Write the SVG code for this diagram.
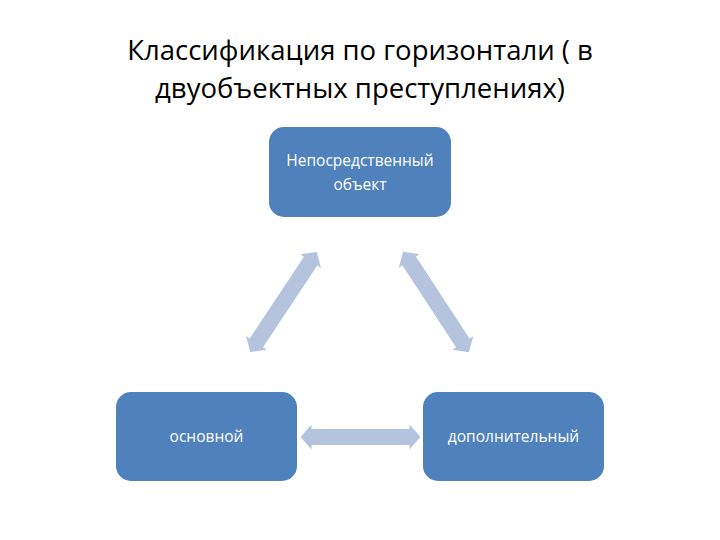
<svg xmlns="http://www.w3.org/2000/svg" xmlns:xlink="http://www.w3.org/1999/xlink" width="720" height="540" viewBox="0 0 720 540">
<style>
.box{fill:#4F81BD;}
.lbl{fill:#FFFFFF;font-family:"Open Sans","Liberation Sans",sans-serif;font-size:15.5px;text-anchor:middle;}
.title{fill:#000000;font-family:"Open Sans","Liberation Sans",sans-serif;font-size:27.5px;text-anchor:middle;}
.arr{fill:#B4C4DF;}
</style>
<defs>
<polygon id="dbl" class="arr" points="-60,0 -49,-12.5 -49,-8 49,-8 49,-12.5 60,0 49,12.5 49,8 -49,8 -49,12.5"/>
</defs>
<rect width="720" height="540" fill="#FFFFFF"/>
<g id="title">
<text class="title" x="360" y="60">Классификация по горизонтали ( в</text>
<text class="title" x="360" y="98">двуобъектных преступлениях)</text>
</g>
<g id="connectors">
<use xlink:href="#dbl" href="#dbl" transform="translate(283.5,302) rotate(-56.4)"/>
<use xlink:href="#dbl" href="#dbl" transform="translate(436,302) rotate(56.8)"/>
<use xlink:href="#dbl" href="#dbl" transform="translate(360.5,437) scale(1.0,1)"/>
</g>
<g id="node-top">
<rect class="box" x="269" y="127" width="182" height="90" rx="15"/>
<text class="lbl" x="360" y="166">Непосредственный</text>
<text class="lbl" x="360" y="190">объект</text>
</g>
<g id="node-left">
<rect class="box" x="116" y="392" width="181" height="89" rx="15"/>
<text class="lbl" x="206.5" y="442">основной</text>
</g>
<g id="node-right">
<rect class="box" x="423" y="392" width="181" height="89" rx="15"/>
<text class="lbl" x="513.5" y="442">дополнительный</text>
</g>
</svg>
